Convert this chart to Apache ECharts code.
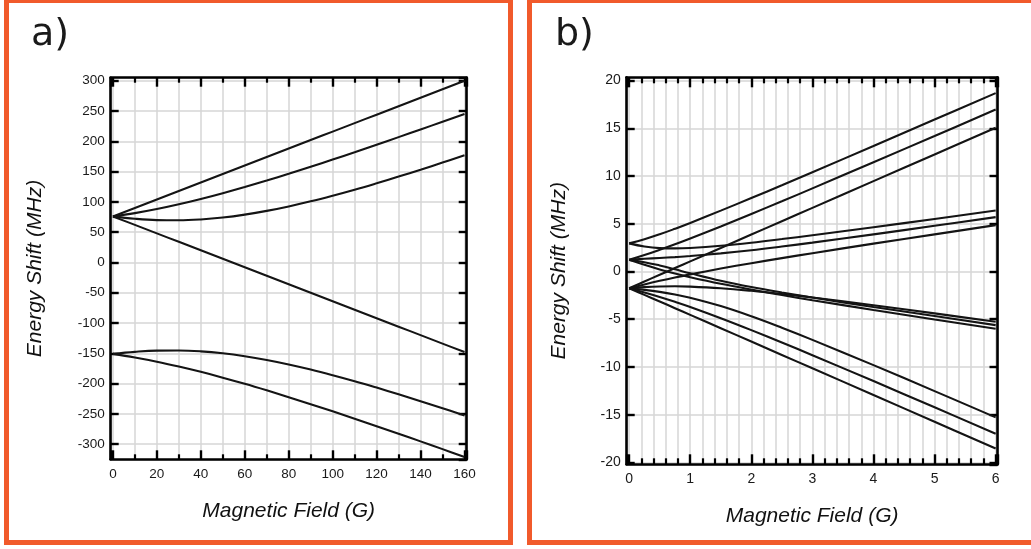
<!DOCTYPE html>
<html>
<head>
<meta charset="utf-8">
<script src="https://cdn.jsdelivr.net/npm/echarts@6/dist/echarts.min.js"></script>
<style>
  html, body { margin: 0; padding: 0; background: #ffffff; }
  #chart { width: 1031px; height: 549px; }
</style>
</head>
<body>
<div id="chart"></div>
<script>
// ---------- Panel a) : field in G, energy shift in MHz ----------
const fieldA = [0, 10, 20, 30, 40, 50, 60, 70, 80, 90, 100, 110, 120, 130, 140, 150, 160];
const aUpper1 = [76, 90, 104, 118, 132, 146, 160, 174, 188, 202, 216, 230, 244, 258, 272, 286, 300];
const aUpper2 = [76, 81.4, 88.1, 96.0, 104.8, 114.4, 124.6, 135.3, 146.5, 158.1, 169.9, 182.0, 194.4, 206.9, 219.5, 232.3, 245.2];
const aUpper3 = [76, 72.1, 69.9, 69.6, 71.0, 74.1, 78.9, 85.1, 92.5, 100.9, 110.2, 120.1, 130.7, 141.7, 153.1, 164.8, 176.8];
const aUpper4 = [76, 62, 48, 34, 20, 6, -8, -22, -36, -50, -64, -78, -92, -106, -120, -134, -148];
const aLower1 = [-151, -147.6, -145.6, -145.4, -146.8, -150.0, -154.8, -161.0, -168.4, -176.8, -186.1, -196.0, -206.6, -217.6, -229.0, -240.7, -252.7];
const aLower2 = [-151, -156.9, -163.8, -171.8, -180.6, -190.2, -200.4, -211.2, -222.4, -234.0, -245.8, -257.9, -270.3, -282.8, -295.4, -308.2, -321.1];
const aSeries = [aUpper1, aUpper2, aUpper3, aUpper4, aLower1, aLower2];

// ---------- Panel b) ----------
const fieldB = [0, 0.25, 0.5, 0.75, 1, 1.5, 2, 2.5, 3, 4, 5, 6];
const bLine1  = [2.95, 3.38, 3.90, 4.48, 5.09, 6.38, 7.70, 9.04, 10.41, 13.15, 15.92, 18.69];
const bLine2  = [1.22, 1.72, 2.27, 2.85, 3.46, 4.72, 6.03, 7.36, 8.71, 11.45, 14.20, 16.97];
const bLine3  = [-1.76, -1.05, -0.34, 0.36, 1.06, 2.46, 3.87, 5.27, 6.67, 9.47, 12.27, 15.07];
const bLine4  = [2.95, 2.62, 2.45, 2.42, 2.47, 2.70, 3.02, 3.40, 3.80, 4.64, 5.51, 6.40];
const bLine5  = [1.22, 1.33, 1.42, 1.51, 1.62, 1.90, 2.23, 2.62, 3.03, 3.89, 4.79, 5.70];
const bLine6  = [-1.76, -1.35, -0.97, -0.62, -0.30, 0.31, 0.87, 1.40, 1.92, 2.92, 3.89, 4.86];
const bLine7  = [-1.76, -1.64, -1.57, -1.55, -1.58, -1.75, -2.02, -2.35, -2.72, -3.53, -4.39, -5.27];
const bLine8  = [1.22, 0.98, 0.63, 0.23, -0.19, -0.97, -1.63, -2.20, -2.73, -3.72, -4.67, -5.62];
const bLine9  = [1.22, 0.70, 0.22, -0.21, -0.60, -1.29, -1.90, -2.47, -3.01, -4.03, -5.02, -5.99];
const bLine10 = [-1.76, -1.92, -2.13, -2.41, -2.75, -3.62, -4.69, -5.89, -7.16, -9.81, -12.53, -15.28];
const bLine11 = [-1.76, -2.19, -2.66, -3.17, -3.71, -4.89, -6.14, -7.44, -8.77, -11.48, -14.23, -16.99];
const bLine12 = [-1.76, -2.45, -3.14, -3.84, -4.54, -5.94, -7.34, -8.74, -10.14, -12.94, -15.74, -18.54];
const bSeries = [bLine1, bLine2, bLine3, bLine4, bLine5, bLine6, bLine7, bLine8, bLine9, bLine10, bLine11, bLine12];

const xTitle = 'Magnetic Field (G)';
const yTitle = 'Energy Shift (MHz)';

const FONT = '"Liberation Sans", Arial, Helvetica, sans-serif';
const GRIDC = '#d6d6d6';
const AXC = '#000000';

function xAxisCfg(grid, pos, min, max, split, minorSplit, showLabels, fontSize, majorLen, minorLen) {
  return {
    type: 'value', gridIndex: grid, position: pos, min: min, max: max, splitNumber: split,
    name: showLabels ? xTitle : '', nameLocation: 'middle', nameGap: 41,
    nameTextStyle: { fontFamily: FONT, fontSize: 21, fontStyle: 'italic', color: '#111' },
    axisLine: { show: true, onZero: false, lineStyle: { color: AXC, width: 2.6 } },
    axisTick: { show: true, inside: true, length: majorLen, lineStyle: { color: AXC, width: 2.4 } },
    minorTick: { show: true, splitNumber: minorSplit, length: minorLen, lineStyle: { color: AXC, width: 2.2 } },
    splitLine: { show: showLabels, lineStyle: { color: GRIDC, width: 1.5 } },
    minorSplitLine: { show: showLabels, lineStyle: { color: GRIDC, width: 1.5 } },
    axisLabel: { show: showLabels, showMinLabel: false, showMaxLabel: false, margin: 8,
      fontFamily: FONT, fontSize: fontSize, color: '#1a1a1a' }
  };
}
function yAxisCfg(grid, pos, min, max, split, showLabels, fontSize, gap) {
  return {
    type: 'value', gridIndex: grid, position: pos, min: min, max: max, splitNumber: split,
    name: showLabels ? yTitle : '', nameLocation: 'middle', nameGap: gap, nameRotate: 90,
    nameTextStyle: { fontFamily: FONT, fontSize: 21, fontStyle: 'italic', color: '#111' },
    axisLine: { show: true, onZero: false, lineStyle: { color: AXC, width: 2.6 } },
    axisTick: { show: true, inside: true, length: 8, lineStyle: { color: AXC, width: 2.4 } },
    splitLine: { show: showLabels, lineStyle: { color: GRIDC, width: 1.5 } },
    axisLabel: { show: showLabels, showMinLabel: false, showMaxLabel: false, margin: 6,
      fontFamily: FONT, fontSize: fontSize, color: '#1a1a1a' }
  };
}

const series = [];
aSeries.forEach(function (arr) {
  series.push({
    type: 'line', xAxisIndex: 0, yAxisIndex: 0, showSymbol: false, smooth: 0.4, silent: true,
    lineStyle: { color: '#141414', width: 2.1 },
    data: fieldA.map(function (x, i) { return [x, arr[i]]; })
  });
});
bSeries.forEach(function (arr) {
  series.push({
    type: 'line', xAxisIndex: 2, yAxisIndex: 2, showSymbol: false, smooth: 0.4, silent: true,
    lineStyle: { color: '#141414', width: 2.1 },
    data: fieldB.map(function (x, i) { return [x, arr[i]]; })
  });
});

const option = {
  animation: false,
  backgroundColor: '#ffffff',
  grid: [
    { left: 110.7, right: 564.3, top: 77.7, bottom: 89.7 },
    { left: 626.7, right: 33.5, top: 77.3, bottom: 84.7 }
  ],
  xAxis: [
    xAxisCfg(0, 'bottom', -1, 161, 8, 2, true, 13.5, 9, 5),
    xAxisCfg(0, 'top', -1, 161, 8, 2, false, 13.5, 9, 5),
    xAxisCfg(1, 'bottom', -0.04, 6.03, 6, 5, true, 14, 10, 6),
    xAxisCfg(1, 'top', -0.04, 6.03, 6, 5, false, 14, 10, 6)
  ],
  yAxis: [
    yAxisCfg(0, 'left', -325, 305, 12, true, 13.5, 65),
    yAxisCfg(0, 'right', -325, 305, 12, false, 13.5, 0),
    yAxisCfg(1, 'left', -20.2, 20.35, 8, true, 14, 57),
    yAxisCfg(1, 'right', -20.2, 20.35, 8, false, 14, 0)
  ],
  series: series,
  graphic: [
    { type: 'rect', z: 100, silent: true, shape: { x: 6.5, y: 0.5, width: 504, height: 542 },
      style: { fill: null, stroke: '#F15A2B', lineWidth: 5 } },
    { type: 'rect', z: 100, silent: true, shape: { x: 529.5, y: 0.5, width: 504, height: 542 },
      style: { fill: null, stroke: '#F15A2B', lineWidth: 5 } },
    { type: 'text', z: 100, left: 31, top: 16, silent: true,
      style: { text: 'a)', fontFamily: 'DejaVu Sans, sans-serif', fontSize: 38, fill: '#1a1a1a' } },
    { type: 'text', z: 100, left: 555, top: 16, silent: true,
      style: { text: 'b)', fontFamily: 'DejaVu Sans, sans-serif', fontSize: 38, fill: '#1a1a1a' } }
  ]
};

const chart = echarts.init(document.getElementById('chart'), null, { renderer: 'canvas' });
chart.setOption(option);
</script>
</body>
</html>
